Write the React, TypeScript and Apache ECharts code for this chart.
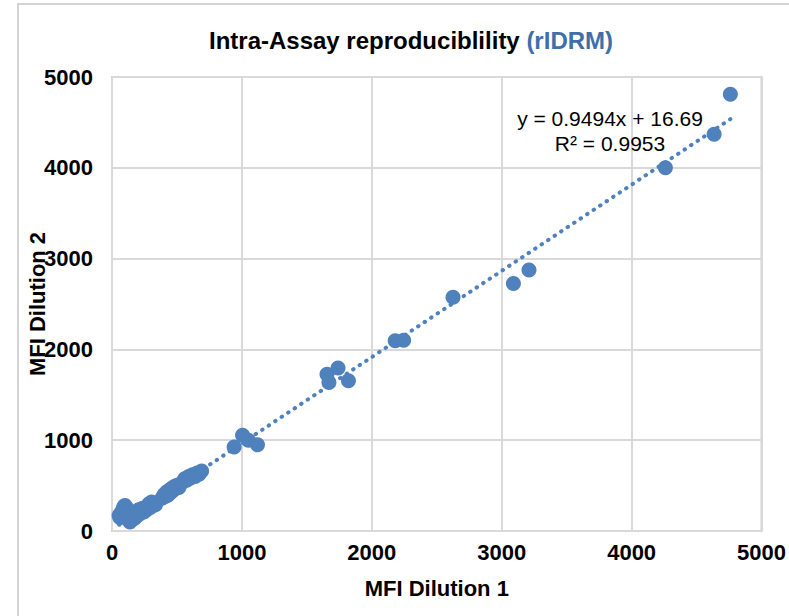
import React, { useEffect, useRef } from "react";
import * as echarts from "echarts";

// MFI Dilution 1 (x) and MFI Dilution 2 (y)
const dilution1: number[] = [
  55, 62, 70, 78, 85, 92, 100, 105, 112, 118, 125, 132, 138, 145, 152, 160, 168, 175,
  185, 195, 205, 215, 225, 235, 245, 255, 265, 275, 285, 295, 305, 315, 325, 335,
  385, 400, 410, 420, 430, 440, 450, 460, 470, 480, 490, 500, 515,
  545, 560, 575, 590, 605, 620, 640, 655, 670, 690,
  940, 1005, 1050, 1120, 1655, 1670, 1740, 1820, 2180, 2245, 2625, 3090, 3210, 4260, 4635, 4760,
];
const dilution2: number[] = [
  170, 145, 200, 185, 240, 270, 280, 230, 255, 190, 150, 120, 100, 165, 210, 130, 175, 140,
  200, 170, 235, 190, 220, 250, 210, 245, 230, 270, 300, 260, 320, 280, 300, 290,
  360, 400, 380, 430, 395, 450, 420, 470, 445, 490, 470, 505, 480,
  540, 575, 560, 600, 585, 620, 600, 640, 625, 660,
  925, 1055, 1000, 950, 1725, 1635, 1795, 1655, 2095, 2100, 2575, 2725, 2875, 4000, 4370, 4810,
];

const trendSlope = 0.9494;
const trendIntercept = 16.69;
const trendR2 = 0.9953;

const axisTicks = [0, 1000, 2000, 3000, 4000, 5000];

const FONT = "'Liberation Sans', Arial, sans-serif";
const BLUE = "#4F81BD";

export default function App() {
  const ref = useRef<HTMLDivElement>(null);

  useEffect(() => {
    if (!ref.current) return;
    const chart = echarts.init(ref.current, undefined, { renderer: "svg" });
    const points = dilution1.map((x, i) => [x, dilution2[i]]);
    const xMin = Math.min(...dilution1);
    const xMax = Math.max(...dilution1);
    const trend = [
      [xMin, trendSlope * xMin + trendIntercept],
      [xMax, trendSlope * xMax + trendIntercept],
    ];
    const fmt = (v: number) => String(v);
    chart.setOption({
      animation: false,
      backgroundColor: "#ffffff",
      textStyle: { fontFamily: FONT },
      grid: {
        left: 112,
        right: 27,
        top: 77,
        bottom: 85,
        show: true,
        borderColor: "#cccccc",
        borderWidth: 2,
      },
      graphic: [
        {
          type: "rect",
          z: -10,
          shape: { x: 18, y: 4, width: 900, height: 800 },
          style: { fill: "none", stroke: "#d4d4d4", lineWidth: 2 },
        },
        {
          type: "text",
          x: 411,
          y: 40,
          style: {
            text: "{a|Intra-Assay reproduciblility }{b|(rIDRM)}",
            align: "center",
            verticalAlign: "middle",
            rich: {
              a: { fontSize: 24, fontWeight: "bold", fill: "#000000", fontFamily: FONT },
              b: { fontSize: 24, fontWeight: "bold", fill: "#3F6FAA", fontFamily: FONT },
            },
          },
        },
        {
          type: "text",
          x: 610,
          y: 106,
          z: 100,
          style: {
            text: `y = ${trendSlope}x + ${trendIntercept}\nR² = ${trendR2}`,
            align: "center",
            verticalAlign: "top",
            fontSize: 21,
            lineHeight: 25,
            fill: "#000000",
            fontFamily: FONT,
          },
        },
      ],
      xAxis: {
        type: "value",
        min: axisTicks[0],
        max: axisTicks[axisTicks.length - 1],
        interval: 1000,
        name: "MFI Dilution 1",
        nameLocation: "middle",
        nameGap: 46,
        nameMoveOverlap: false,
        nameTextStyle: { fontSize: 22, fontWeight: "bold", color: "#000", fontFamily: FONT },
        axisLine: { show: false },
        axisTick: { show: false },
        axisLabel: { fontSize: 22, fontWeight: "bold", color: "#000", margin: 10, fontFamily: FONT, formatter: fmt },
        splitLine: { show: true, lineStyle: { color: "#d9d9d9", width: 2 } },
      },
      yAxis: {
        type: "value",
        min: axisTicks[0],
        max: axisTicks[axisTicks.length - 1],
        interval: 1000,
        name: "MFI Dilution 2",
        nameLocation: "middle",
        nameRotate: 90,
        nameGap: 64,
        nameMoveOverlap: false,
        nameTextStyle: { fontSize: 22, fontWeight: "bold", color: "#000", fontFamily: FONT },
        axisLine: { show: false },
        axisTick: { show: false },
        axisLabel: { fontSize: 22, fontWeight: "bold", color: "#000", margin: 19, fontFamily: FONT, formatter: fmt },
        splitLine: { show: true, lineStyle: { color: "#d9d9d9", width: 2 } },
      },
      series: [
        {
          type: "scatter",
          data: points,
          symbol: "circle",
          symbolSize: 15,
          itemStyle: { color: BLUE, opacity: 1 },
          z: 2,
        },
        {
          type: "line",
          data: trend,
          showSymbol: false,
          symbol: "none",
          z: 3,
          lineStyle: { color: BLUE, width: 4, type: [0.5, 7.3], cap: "round" },
        },
      ],
    });
    return () => chart.dispose();
  }, []);

  return (
    <div
      ref={ref}
      style={{ position: "fixed", left: 0, top: 0, width: 789, height: 616, background: "#fff" }}
    />
  );
}
